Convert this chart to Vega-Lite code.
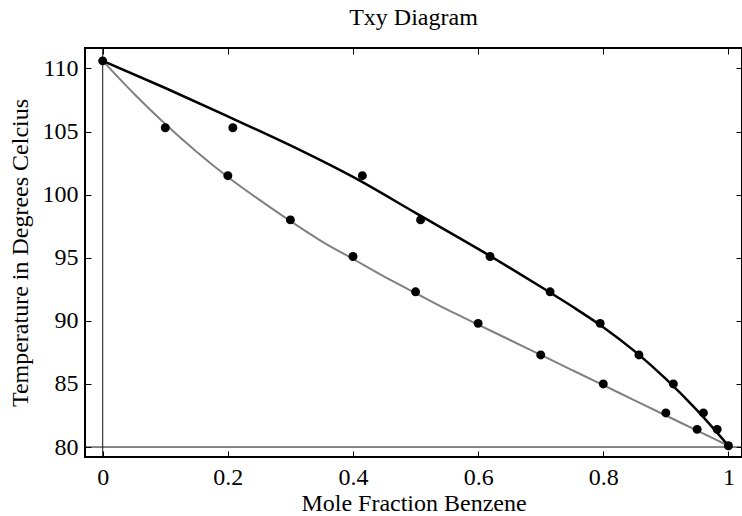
{
  "$schema": "https://vega.github.io/schema/vega-lite/v6.json",
  "width": 657,
  "height": 409,
  "autosize": {"type": "none"},
  "padding": {"left": 85, "top": 48, "right": 0, "bottom": 59},
  "background": "white",
  "title": {"text": "Txy Diagram", "font": "Liberation Serif", "fontSize": 24, "fontWeight": "normal", "color": "black", "offset": 18},
  "config": {
    "view": {"stroke": "black", "strokeWidth": 2},
    "axis": {
      "grid": false, "domain": false, "tickColor": "black", "tickWidth": 1, "tickSize": -6,
      "labelFont": "Liberation Serif", "labelFontSize": 24, "labelColor": "black", "labelFlush": false, "format": "~g",
      "titleFont": "Liberation Serif", "titleFontSize": 24, "titleFontWeight": "normal", "titleColor": "black"
    }
  },
  "datasets": {
    "bubble": [
      {"x": 0, "T": 110.6}, {"x": 0.05, "T": 108.0}, {"x": 0.1, "T": 105.6}, {"x": 0.15, "T": 103.4},
      {"x": 0.2, "T": 101.4}, {"x": 0.25, "T": 99.6}, {"x": 0.3, "T": 97.9}, {"x": 0.35, "T": 96.3},
      {"x": 0.4, "T": 94.9}, {"x": 0.45, "T": 93.5}, {"x": 0.5, "T": 92.2}, {"x": 0.55, "T": 90.9},
      {"x": 0.6, "T": 89.7}, {"x": 0.65, "T": 88.5}, {"x": 0.7, "T": 87.3}, {"x": 0.75, "T": 86.1},
      {"x": 0.8, "T": 84.9}, {"x": 0.85, "T": 83.7}, {"x": 0.9, "T": 82.5}, {"x": 0.95, "T": 81.3},
      {"x": 1.0, "T": 80.1}
    ],
    "dew": [
      {"x": 0, "T": 110.6}, {"x": 0.1, "T": 108.45}, {"x": 0.2, "T": 106.2}, {"x": 0.3, "T": 103.9},
      {"x": 0.4, "T": 101.4}, {"x": 0.5, "T": 98.55}, {"x": 0.6, "T": 95.7}, {"x": 0.7, "T": 92.7},
      {"x": 0.75, "T": 91.15}, {"x": 0.8, "T": 89.5}, {"x": 0.85, "T": 87.6}, {"x": 0.9, "T": 85.4},
      {"x": 0.95, "T": 82.9}, {"x": 1.0, "T": 80.1}
    ],
    "points": [
      {"x": 0, "T": 110.6}, {"x": 0.1, "T": 105.3}, {"x": 0.2, "T": 101.5}, {"x": 0.3, "T": 98.0},
      {"x": 0.4, "T": 95.1}, {"x": 0.5, "T": 92.3}, {"x": 0.6, "T": 89.8}, {"x": 0.7, "T": 87.3},
      {"x": 0.8, "T": 85.0}, {"x": 0.9, "T": 82.7}, {"x": 0.95, "T": 81.4}, {"x": 1.0, "T": 80.1},
      {"x": 0.208, "T": 105.3}, {"x": 0.415, "T": 101.5}, {"x": 0.508, "T": 98.0}, {"x": 0.619, "T": 95.1},
      {"x": 0.715, "T": 92.3}, {"x": 0.795, "T": 89.8}, {"x": 0.857, "T": 87.3}, {"x": 0.912, "T": 85.0},
      {"x": 0.96, "T": 82.7}, {"x": 0.982, "T": 81.4}
    ]
  },
  "layer": [
    {
      "data": {"values": [{}]},
      "mark": {"type": "rule", "color": "#111111", "strokeWidth": 1},
      "encoding": {"x": {"datum": 0, "type": "quantitative", "scale": {"domain": [-0.0283, 1.0217], "nice": false, "zero": false}, "axis": null}}
    },
    {
      "data": {"values": [{}]},
      "mark": {"type": "rule", "color": "#111111", "strokeWidth": 1},
      "encoding": {"y": {"datum": 80, "type": "quantitative", "scale": {"domain": [79.21, 111.62], "nice": false, "zero": false}, "axis": null}}
    },
    {
      "data": {"name": "bubble"},
      "mark": {"type": "line", "color": "#808080", "strokeWidth": 2, "interpolate": "monotone"},
      "encoding": {
        "x": {"field": "x", "type": "quantitative", "axis": null},
        "y": {"field": "T", "type": "quantitative", "axis": null}
      }
    },
    {
      "data": {"name": "dew"},
      "mark": {"type": "line", "color": "black", "strokeWidth": 2.5, "interpolate": "monotone"},
      "encoding": {
        "x": {"field": "x", "type": "quantitative", "axis": {"orient": "top", "labels": false, "title": null, "values": [0, 0.2, 0.4, 0.6, 0.8, 1]}},
        "y": {"field": "T", "type": "quantitative", "axis": {"orient": "right", "labels": false, "title": null, "values": [80, 85, 90, 95, 100, 105, 110]}}
      }
    },
    {
      "data": {"name": "points"},
      "mark": {"type": "point", "filled": true, "color": "black", "opacity": 1, "size": 80},
      "encoding": {
        "x": {"field": "x", "type": "quantitative", "axis": {"orient": "bottom", "title": "Mole Fraction Benzene", "values": [0, 0.2, 0.4, 0.6, 0.8, 1], "labelPadding": 14, "titlePadding": 2}},
        "y": {"field": "T", "type": "quantitative", "axis": {"orient": "left", "title": "Temperature in Degrees Celcius", "values": [80, 85, 90, 95, 100, 105, 110], "labelPadding": 13, "titlePadding": 10}}
      }
    }
  ],
  "resolve": {"axis": {"x": "independent", "y": "independent"}}
}
